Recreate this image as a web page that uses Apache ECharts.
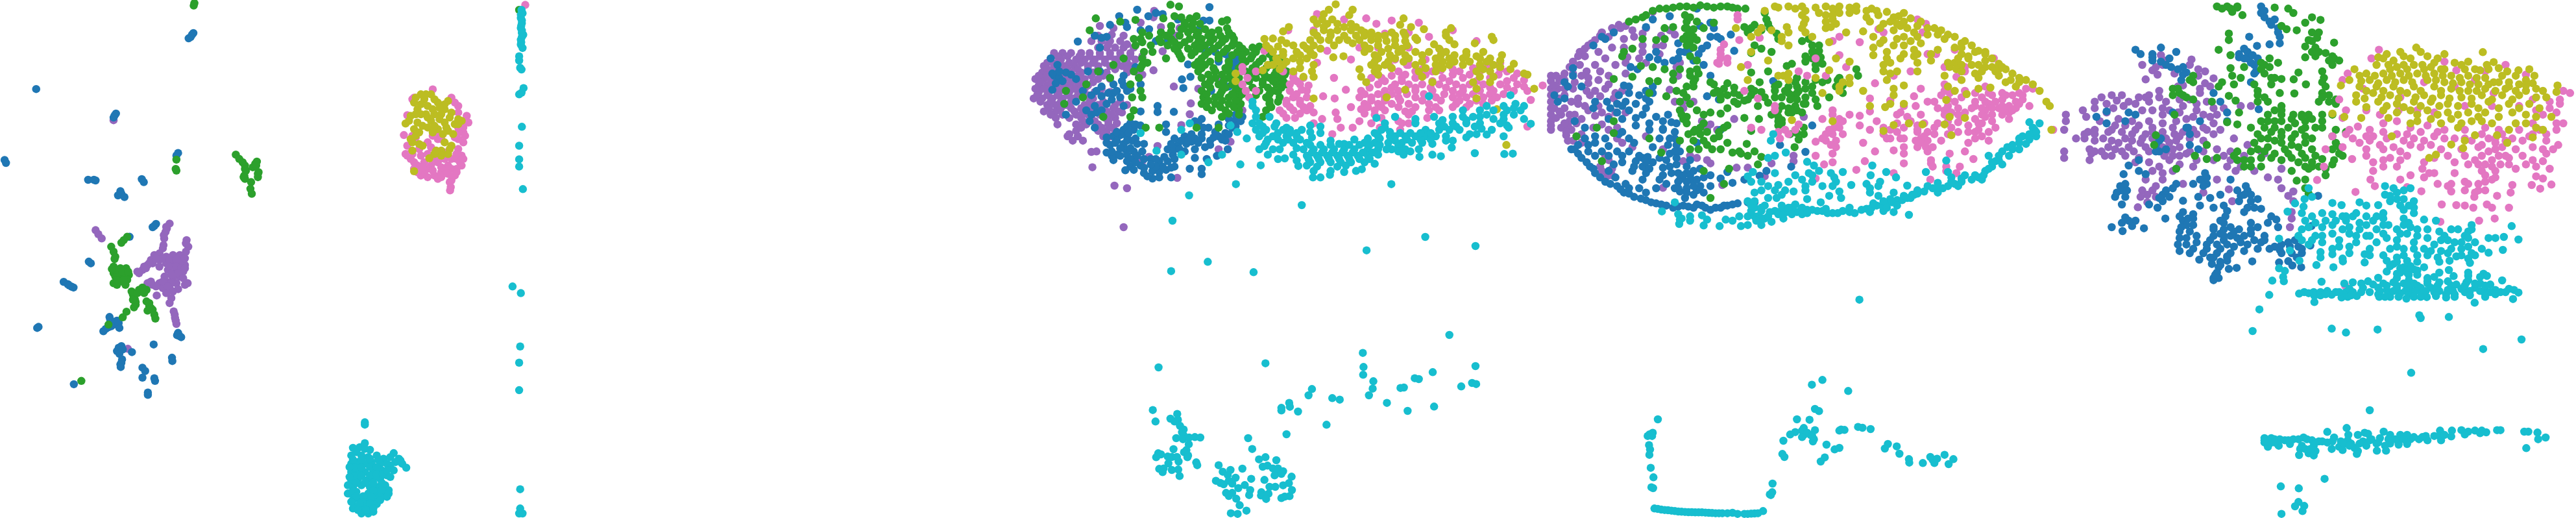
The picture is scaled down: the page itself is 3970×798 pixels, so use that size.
<!DOCTYPE html>
<html><head><meta charset="utf-8">
<style>html,body{margin:0;padding:0;background:#fff}#c{width:3970px;height:798px}</style>
<script src="https://cdn.jsdelivr.net/npm/echarts@6/dist/echarts.min.js"></script>
</head><body><div id="c"></div>
<script>
const p1Blue=[[570,100],[562,112],[566,105],[556,116],[107,269],[342,343],[335,355],[338,349],[525,462],[520,470],[14,483],[18,492],[260,543],[282,545],[277,543],[418,541],[424,550],[355,577],[348,590],[358,585],[367,595],[460,676],[450,686],[455,682],[382,715],[262,790],[268,795],[188,851],[200,858],[212,866],[217,868],[205,862],[323,957],[325,965],[345,968],[335,980],[320,988],[305,1000],[312,993],[350,975],[352,990],[340,972],[328,985],[110,990],[114,987],[525,1005],[530,1015],[522,1012],[534,1018],[350,1050],[345,1060],[358,1045],[362,1055],[352,1068],[360,1085],[355,1100],[358,1095],[356,1108],[389,1063],[453,1040],[507,1080],[508,1090],[420,1110],[428,1120],[420,1140],[455,1142],[457,1150],[218,1160],[436,1185],[436,1192]];
const p1Green=[[571,17],[573,10],[520,482],[518,510],[520,515],[695,467],[705,480],[715,490],[722,500],[725,515],[720,530],[722,540],[740,550],[738,570],[742,585],[752,495],[757,488],[745,505],[762,520],[760,535],[375,715],[365,725],[358,733],[328,745],[335,760],[340,775],[338,782],[335,805],[345,815],[355,825],[335,825],[372,810],[380,830],[365,835],[350,840],[335,855],[345,860],[370,860],[360,850],[355,810],[340,835],[375,845],[420,868],[432,875],[415,880],[410,875],[425,885],[388,880],[392,890],[398,905],[400,920],[395,928],[432,910],[440,925],[435,938],[450,935],[455,950],[458,962],[373,941],[362,958],[320,980],[240,1150],[345,830],[360,820],[350,850],[340,815],[365,845],[378,820],[330,812],[345,845],[400,912],[392,905],[440,915],[445,930],[425,875],[405,885],[722,510],[718,535],[755,500],[760,525]];
const p1Purple=[[282,695],[290,707],[300,720],[335,363],[377,1053],[490,685],[500,675],[488,700],[484,720],[482,740],[480,750],[550,725],[555,745],[548,760],[405,820],[420,815],[435,800],[445,785],[455,770],[470,765],[490,775],[510,770],[530,770],[540,785],[545,800],[530,795],[510,795],[490,795],[470,785],[450,795],[470,805],[495,815],[520,815],[540,820],[530,835],[510,840],[490,850],[470,855],[450,860],[435,855],[480,870],[500,870],[520,855],[545,860],[525,873],[490,885],[505,900],[500,915],[462,892],[512,940],[516,960],[520,978],[553,855],[480,780],[500,785],[520,785],[460,780],[440,795],[425,805],[500,805],[520,805],[535,810],[505,825],[525,825],[545,780],[485,835],[505,855],[480,850],[460,865],[445,850],[495,865],[510,880],[505,830],[540,840],[545,810],[548,735],[492,690],[483,710],[515,950],[518,968],[410,825],[430,810]];
const p1Pink=[[1220,295],[1330,295],[1350,320],[1375,350],[1380,370],[1365,400],[1190,408],[1215,410],[1195,465],[1210,480],[1230,500],[1250,520],[1280,530],[1300,520],[1330,510],[1360,500],[1360,470],[1350,450],[1290,410],[1260,430],[1240,470],[1300,470],[1320,500],[1220,510],[1240,530],[1270,500],[1290,490],[1340,530],[1330,545],[1290,540],[1325,550],[1328,565],[1326,575],[1365,430],[1200,440],[1370,410],[1250,490],[1310,480],[1345,480],[1275,270],[1200,348],[1260,465],[1350,420],[1230,520],[1260,510],[1310,510],[1345,510],[1200,470],[1220,490],[1245,505],[1275,515],[1300,505],[1355,490],[1345,465],[1310,460],[1290,420],[1270,445],[1235,450],[1215,465],[1345,520],[1320,525],[1260,535],[1300,535],[1365,385],[1350,400],[1350,340],[1370,365],[1340,310],[1215,300],[1205,465],[1280,480],[1330,480],[1365,480],[1225,415],[1300,420],[1275,410],[1340,415],[1350,385]];
const p1Olive=[[1240,285],[1270,285],[1220,310],[1250,300],[1290,310],[1320,305],[1230,330],[1260,320],[1310,330],[1330,340],[1210,350],[1240,345],[1280,345],[1350,360],[1360,365],[1195,373],[1230,370],[1270,365],[1310,370],[1340,375],[1220,390],[1260,385],[1290,390],[1320,395],[1215,430],[1245,440],[1210,420],[1310,430],[1330,440],[1300,455],[1325,450],[1280,465],[1265,478],[1220,517],[1215,455],[1300,345],[1255,345],[1225,295],[1255,285],[1280,300],[1310,315],[1240,315],[1275,330],[1295,325],[1225,345],[1260,355],[1295,360],[1325,355],[1205,365],[1245,380],[1280,380],[1315,385],[1350,375],[1235,400],[1275,400],[1305,405],[1335,405],[1225,410],[1320,465],[1300,470],[1285,455],[1235,435]];
const p1Cyan=[[1075,1275],[1075,1282],[1510,865],[1075,1338],[1040,1352],[1060,1350],[1090,1358],[1065,1375],[1085,1380],[1035,1375],[1110,1375],[1130,1385],[1160,1368],[1175,1385],[1185,1400],[1197,1412],[1165,1395],[1150,1405],[1160,1420],[1140,1400],[1035,1400],[1055,1395],[1075,1400],[1095,1395],[1120,1400],[1035,1425],[1055,1420],[1075,1425],[1100,1420],[1125,1420],[1140,1435],[1035,1450],[1055,1445],[1080,1450],[1100,1445],[1120,1445],[1040,1470],[1065,1465],[1090,1470],[1115,1470],[1135,1465],[1030,1490],[1050,1485],[1085,1490],[1110,1490],[1145,1480],[1130,1498],[1040,1510],[1060,1505],[1080,1510],[1100,1510],[1050,1530],[1070,1530],[1090,1530],[1110,1522],[1065,1550],[1085,1550],[1100,1545],[1025,1490],[1040,1535],[1050,1365],[1075,1355],[1040,1388],[1065,1388],[1090,1385],[1115,1388],[1045,1412],[1065,1412],[1090,1410],[1110,1410],[1045,1437],[1065,1437],[1090,1435],[1110,1432],[1128,1432],[1050,1458],[1075,1458],[1100,1458],[1125,1458],[1040,1482],[1100,1480],[1125,1480],[1050,1498],[1070,1498],[1095,1500],[1120,1500],[1035,1515],[1070,1518],[1090,1520],[1060,1520],[1080,1540],[1100,1535],[1055,1540],[1180,1390],[1150,1380],[1140,1420],[1150,1440],[1030,1410],[1030,1440],[1025,1465],[1145,1490],[1140,1500],[1120,1510]];
const p2Olive=[[1535,8]];
const p2Green=[[1530,30]];
const p2Pink=[[1548,15]];
const p2Cyan=[[1537,30],[1540,40],[1535,55],[1538,70],[1535,85],[1538,100],[1542,105],[1535,120],[1535,135],[1540,145],[1530,170],[1530,183],[1533,205],[1537,210],[1530,285],[1537,280],[1543,266],[1538,383],[1530,440],[1530,481],[1530,503],[1541,571],[1535,885],[1533,1046],[1530,1095],[1530,1178],[1533,1477],[1533,1535],[1540,1550],[1530,1550],[1535,45],[1538,62],[1536,78],[1538,92],[1538,112],[1536,128]];
const p3Purple=[[260,130],[220,120],[195,190],[225,190],[250,190],[280,190],[215,220],[240,220],[265,220],[290,220],[320,220],[85,245],[110,245],[135,245],[165,245],[190,245],[220,245],[250,245],[280,245],[310,245],[75,275],[105,275],[150,275],[175,275],[205,275],[235,275],[265,275],[295,275],[325,275],[55,305],[85,305],[115,305],[145,305],[185,305],[215,305],[250,305],[285,305],[315,305],[50,335],[75,335],[105,335],[135,335],[165,335],[200,335],[240,335],[300,335],[330,335],[30,365],[55,365],[85,365],[115,365],[145,365],[175,365],[215,365],[250,365],[40,395],[65,395],[95,395],[125,395],[155,395],[185,395],[40,425],[70,425],[100,425],[130,425],[160,425],[205,425],[250,425],[25,455],[50,455],[80,455],[110,455],[140,455],[200,455],[65,485],[90,485],[120,485],[175,485],[215,485],[265,485],[300,485],[55,515],[90,515],[145,515],[170,515],[210,515],[240,515],[275,515],[90,545],[130,545],[165,545],[195,545],[235,545],[265,545],[95,575],[150,575],[180,575],[215,575],[245,575],[150,605],[215,605],[240,605],[265,605],[125,630],[155,630],[230,630],[250,630],[140,650],[170,650],[195,702],[210,700],[198,773],[263,858],[300,870],[290,1050],[438,400],[488,478],[510,410],[485,528],[460,578],[380,50],[378,80],[340,105],[400,125],[455,130],[445,165],[405,237],[378,325],[345,345],[390,675],[570,690],[605,655],[448,822],[345,745],[365,725],[520,360],[570,365],[640,510],[620,490],[95,260],[125,260],[160,260],[190,260],[220,260],[250,260],[280,260],[310,260],[65,290],[95,290],[130,290],[165,290],[200,290],[235,290],[270,290],[300,290],[65,320],[95,320],[125,320],[155,320],[185,320],[215,320],[265,320],[300,320],[40,350],[65,350],[95,350],[125,350],[155,350],[195,350],[230,350],[45,380],[75,380],[105,380],[135,380],[165,380],[200,380],[30,410],[55,410],[85,410],[115,410],[145,410],[175,410],[225,410],[35,440],[65,440],[95,440],[125,440],[155,440],[185,440],[225,440],[45,470],[75,470],[105,470],[135,470],[190,470],[230,470],[280,470],[70,500],[105,500],[135,500],[165,500],[195,500],[230,500],[260,500],[75,530],[110,530],[150,530],[185,530],[220,530],[255,530],[285,520],[170,560],[205,560],[245,560],[270,570],[165,590],[225,590],[255,590],[235,620],[215,165],[255,160],[290,165],[245,205],[300,205],[345,260],[130,620]];
const p3Blue=[[330,45],[385,60],[405,65],[363,75],[543,33],[277,75],[295,105],[250,115],[205,165],[225,175],[240,170],[155,192],[525,95],[543,95],[450,90],[300,125],[340,140],[365,135],[385,190],[420,185],[515,130],[220,220],[75,270],[95,300],[120,335],[85,350],[100,360],[90,385],[80,415],[150,365],[185,330],[220,330],[290,350],[325,310],[260,390],[290,395],[310,410],[225,400],[195,440],[225,445],[260,430],[280,450],[240,480],[290,490],[150,470],[210,520],[180,510],[120,530],[190,560],[205,590],[340,390],[340,515],[390,490],[390,518],[438,517],[462,367],[487,355],[466,407],[310,570],[290,600],[320,600],[340,580],[300,630],[260,630],[325,640],[350,665],[290,665],[240,660],[240,705],[270,715],[260,740],[295,690],[320,700],[345,700],[315,735],[340,765],[310,770],[295,787],[370,735],[395,745],[420,745],[435,715],[420,690],[450,670],[475,665],[500,640],[470,630],[500,690],[530,680],[545,650],[570,630],[590,615],[610,590],[640,540],[520,550],[540,590],[500,560],[620,555],[590,650],[440,770],[415,785],[395,795],[375,790],[350,800],[375,825],[430,820],[520,780],[520,805],[485,780],[535,735],[565,720],[597,690],[500,730],[415,575],[415,610],[550,230],[600,260],[620,280],[610,300],[570,285],[480,298],[520,225],[600,400],[548,420],[300,585],[325,575],[305,615],[280,625],[315,650],[270,650],[300,650],[330,665],[250,670],[280,685],[310,685],[255,720],[280,720],[300,715],[330,720],[300,745],[325,750],[320,785],[350,775],[385,735],[410,725],[440,690],[430,665],[460,650],[490,655],[510,660],[520,640],[545,670],[555,635],[580,645],[600,620],[620,585],[635,560],[600,580],[560,610],[525,590],[510,570],[480,650],[455,690],[470,700],[440,735],[405,770],[430,775],[385,770],[360,815],[395,820],[520,620],[490,620],[440,640],[350,735],[370,760],[255,700],[265,660],[240,635],[270,610],[195,530],[225,510],[205,490],[255,460],[270,420],[245,430],[210,420],[170,420],[100,330],[80,340],[110,375],[135,345],[285,375],[300,420],[600,550],[620,530],[570,575],[610,320],[625,260],[560,240],[630,300],[600,280],[590,250]];
const p3Green=[[428,22],[453,30],[208,85],[190,140],[325,92],[280,100],[440,75],[460,80],[485,85],[505,75],[407,85],[580,100],[595,93],[595,130],[610,165],[615,195],[430,120],[470,120],[490,120],[345,150],[400,150],[480,150],[510,150],[550,150],[320,180],[340,180],[395,180],[430,180],[485,180],[520,180],[555,180],[590,180],[325,210],[370,210],[420,210],[455,210],[500,210],[530,210],[570,210],[610,210],[630,210],[350,240],[375,240],[450,240],[500,240],[540,240],[585,240],[625,240],[650,240],[680,240],[290,270],[345,270],[415,270],[460,270],[520,270],[570,270],[640,270],[665,270],[700,270],[730,270],[750,270],[260,300],[345,300],[500,300],[530,300],[600,300],[640,300],[680,300],[720,300],[760,300],[215,330],[320,330],[510,330],[560,330],[600,330],[650,330],[690,330],[740,330],[770,330],[250,360],[335,360],[520,360],[560,360],[600,360],[630,360],[680,360],[720,360],[750,360],[180,390],[310,390],[530,390],[570,390],[610,390],[640,390],[700,390],[740,390],[770,390],[120,420],[340,420],[520,420],[580,420],[620,420],[650,420],[690,420],[730,420],[170,450],[315,450],[345,450],[525,450],[560,450],[600,450],[630,450],[710,450],[750,450],[115,480],[520,480],[560,480],[600,480],[635,480],[720,480],[320,510],[550,510],[590,510],[630,510],[710,510],[230,540],[310,540],[580,540],[700,540],[355,590],[395,590],[505,590],[570,590],[470,105],[495,105],[515,110],[430,145],[460,135],[495,135],[530,135],[570,140],[600,150],[365,165],[415,165],[455,165],[505,165],[540,165],[575,165],[345,195],[400,195],[440,195],[470,195],[510,195],[545,195],[580,195],[615,180],[440,225],[480,225],[515,225],[555,225],[595,225],[640,225],[670,220],[690,215],[455,255],[490,255],[530,255],[570,255],[610,255],[640,255],[670,255],[720,250],[510,285],[545,285],[600,285],[650,285],[690,285],[740,285],[360,290],[520,315],[555,315],[590,315],[630,315],[670,315],[710,315],[750,315],[540,345],[580,345],[615,345],[660,345],[705,345],[735,345],[765,345],[340,315],[545,375],[585,375],[620,375],[660,375],[700,375],[730,375],[760,375],[545,405],[590,405],[630,405],[670,405],[715,405],[755,405],[535,435],[575,435],[610,435],[640,435],[680,440],[720,435],[745,425],[540,465],[580,465],[620,465],[720,465],[745,470],[535,495],[575,495],[615,495],[725,495],[600,525],[630,530]];
const p3Pink=[[860,65],[1005,85],[1080,95],[1160,105],[1035,110],[940,90],[775,140],[850,140],[1130,150],[1260,140],[1190,170],[1060,155],[1330,190],[985,220],[1130,220],[1040,220],[1225,235],[705,235],[890,235],[960,275],[1180,275],[1090,275],[1130,275],[640,310],[860,290],[1075,305],[1130,300],[1225,300],[1320,315],[1400,290],[640,330],[680,330],[760,330],[1100,330],[1150,330],[1200,330],[1280,330],[1340,330],[1420,330],[655,360],[790,360],[820,360],[910,360],[1020,360],[1050,360],[1110,360],[1150,360],[1230,360],[1290,360],[1370,360],[1440,360],[1470,370],[640,390],[780,390],[810,390],[1040,390],[1090,390],[1130,390],[1170,390],[1220,390],[1270,390],[1310,390],[1350,390],[1400,390],[1450,390],[650,420],[680,420],[780,420],[830,420],[945,415],[990,420],[1060,420],[1100,420],[1150,420],[1200,420],[1260,420],[1290,420],[1340,420],[1380,420],[1480,420],[660,450],[790,450],[830,450],[878,445],[912,455],[985,450],[1020,450],[1060,450],[1100,450],[1150,450],[1210,450],[1260,450],[1300,450],[1350,450],[1390,450],[1490,462],[770,480],[810,480],[1000,480],[1040,480],[1080,480],[1130,480],[1190,480],[1270,480],[1310,480],[1350,480],[750,510],[790,510],[830,510],[850,520],[960,495],[990,505],[1030,510],[1060,510],[1120,515],[1140,515],[1190,510],[1220,510],[770,545],[795,545],[875,550],[915,520],[985,560],[1030,530],[1100,560],[1130,570],[1185,545],[850,570],[920,550],[1020,570],[1110,570],[930,590],[965,590],[1045,590],[1105,600],[1480,585],[905,620],[1525,395],[1120,345],[1180,345],[1260,345],[1310,345],[1395,345],[1450,340],[1060,375],[1110,375],[1200,375],[1250,375],[1330,375],[1420,375],[1470,400],[800,375],[835,395],[1015,405],[1080,405],[1150,405],[1195,405],[1240,405],[1290,405],[1370,405],[1420,405],[800,435],[815,415],[1000,435],[1040,435],[1080,435],[1125,435],[1175,435],[1235,435],[1280,435],[1320,435],[1370,435],[1410,435],[1440,420],[770,465],[810,465],[840,490],[1020,465],[1060,465],[1105,465],[1170,465],[1225,465],[1280,465],[1330,465],[1375,465],[780,495],[820,495],[1010,495],[1050,495],[1100,495],[1150,495],[1210,495],[1260,495],[1300,495],[760,525],[810,525],[1000,525],[1130,530],[1050,545],[790,340],[1400,320],[1360,310],[1260,320],[1170,320],[1125,300],[1225,325],[1080,350]];
const p3Olive=[[915,20],[895,45],[965,45],[880,65],[955,70],[850,90],[875,90],[905,90],[1000,150],[1115,85],[860,110],[890,110],[920,110],[960,110],[1105,115],[777,125],[1137,125],[760,145],[880,140],[920,140],[960,140],[990,140],[1020,150],[1080,150],[1175,135],[1240,150],[1255,130],[860,165],[900,165],[975,165],[1020,165],[1060,165],[1090,165],[1150,175],[1240,165],[1375,170],[705,180],[730,178],[755,185],[840,185],[870,185],[950,185],[985,185],[1040,185],[1090,185],[1120,190],[1155,185],[1250,185],[1380,185],[710,210],[790,210],[820,210],[850,210],[910,210],[1000,210],[1040,210],[1090,210],[1125,210],[1205,205],[1265,205],[1325,200],[730,240],[760,240],[800,240],[840,240],[1000,240],[1050,240],[1100,240],[1150,240],[1190,240],[1240,240],[1300,240],[1350,240],[740,270],[790,270],[830,270],[908,265],[938,260],[1040,270],[1090,270],[1130,270],[1210,270],[1250,270],[1290,270],[1340,270],[1405,255],[730,300],[760,300],[850,300],[1020,300],[1060,300],[1150,300],[1210,300],[1250,300],[1290,300],[1340,300],[1380,300],[1440,295],[700,325],[790,330],[845,330],[985,320],[1030,330],[1160,330],[1210,330],[1330,330],[1370,330],[1470,340],[620,340],[820,355],[850,355],[990,355],[1040,345],[1170,355],[1340,355],[1380,355],[1480,345],[620,375],[1005,380],[1200,380],[1370,380],[1320,380],[1120,415],[1330,410],[1500,410],[850,455],[1065,450],[1330,455],[1390,505],[1418,670],[880,125],[940,125],[975,125],[900,150],[850,150],[940,165],[1000,165],[1040,165],[1115,150],[1120,165],[895,185],[925,185],[965,200],[1020,185],[1065,190],[770,200],[720,225],[745,215],[830,225],[870,225],[1015,225],[1070,225],[1110,225],[1220,225],[1300,255],[1330,260],[760,255],[810,255],[850,255],[1030,255],[1075,255],[1120,255],[1170,255],[1225,255],[1265,255],[1310,285],[1370,270],[1030,285],[1070,285],[1115,285],[1170,285],[1230,285],[1265,285],[745,285],[770,285],[810,285],[1360,285],[1400,280],[1430,320],[1040,315],[1080,315],[1180,315],[1230,315],[1350,320],[1400,310],[810,315],[750,320],[715,300]];
const p3Cyan=[[670,470],[1190,445],[670,490],[1360,490],[1430,440],[680,510],[1290,510],[1340,510],[1380,510],[1420,510],[1445,480],[1470,490],[680,540],[720,540],[1035,545],[1090,540],[1150,550],[1205,540],[1260,540],[1290,540],[1320,540],[1360,530],[1410,530],[1470,550],[670,570],[690,570],[740,570],[840,580],[870,585],[1060,570],[1150,570],[1220,570],[1260,570],[1300,570],[1340,570],[1400,570],[1420,580],[1490,572],[680,600],[710,600],[760,600],[780,600],[815,600],[870,615],[1030,615],[1060,590],[1180,600],[1220,600],[1250,600],[1280,600],[1310,620],[1345,595],[1375,600],[1425,590],[690,630],[730,630],[770,630],[800,630],[845,635],[1010,640],[1040,630],[1090,630],[1120,630],[1150,630],[1180,630],[1210,630],[1240,630],[1300,635],[1330,620],[1360,622],[1410,630],[710,660],[760,660],[790,660],[830,660],[900,650],[940,665],[970,645],[1000,660],[1030,660],[1070,660],[1110,660],[1140,660],[1170,660],[1200,665],[1260,650],[690,690],[730,690],[820,690],[850,690],[880,690],[910,690],[940,690],[970,690],[1010,690],[1040,690],[1080,690],[1120,690],[1160,690],[1257,682],[715,715],[790,715],[830,720],[860,720],[890,720],[920,720],[950,720],[980,720],[1010,720],[1040,715],[1115,715],[1162,725],[1200,715],[1225,722],[1325,708],[1412,712],[1437,710],[745,735],[765,732],[800,742],[840,750],[870,750],[900,750],[930,750],[960,750],[1000,750],[1030,757],[634,760],[694,764],[805,767],[830,765],[860,770],[920,770],[945,765],[850,790],[900,790],[940,795],[975,790],[992,782],[848,820],[870,820],[898,808],[653,640],[621,851],[483,903],[1079,851],[815,948],[434,1020],[1179,1095],[1006,1157],[1327,1137],[540,750],[460,715],[387,697],[340,615],[460,600],[485,570],[605,580],[625,610],[580,715],[538,1210],[430,1253],[673,1258],[1250,1548],[995,1631],[997,1696],[996,1732],[393,1698],[708,1679],[1327,1692],[1201,1720],[1026,1762],[1148,1748],[1160,1752],[1024,1796],[1106,1793],[1116,1791],[845,1798],[835,1827],[1013,1827],[1285,1786],[1317,1770],[1329,1775],[905,1840],[927,1847],[1066,1862],[778,1862],[780,1880],[755,1885],[755,1897],[804,1902],[1127,1899],[1205,1879],[376,1895],[384,1948],[448,1913],[428,1935],[450,1940],[440,1948],[456,1968],[467,1985],[462,1998],[466,2010],[445,2025],[465,2030],[483,2022],[500,2020],[516,2022],[888,1963],[770,2007],[657,2025],[482,2053],[437,2076],[475,2080],[468,2090],[480,2105],[478,2113],[392,2095],[400,2100],[386,2113],[420,2110],[432,2112],[447,2112],[422,2142],[452,2133],[504,2137],[507,2150],[395,2167],[408,2165],[405,2182],[432,2172],[451,2170],[455,2200],[669,2075],[689,2123],[708,2113],[740,2127],[570,2150],[700,2157],[714,2152],[640,2166],[582,2180],[605,2172],[597,2195],[730,2165],[745,2165],[740,2180],[760,2178],[735,2197],[755,2190],[620,2208],[785,2203],[666,2213],[705,2218],[562,2222],[575,2232],[585,2238],[600,2222],[610,2235],[777,2233],[760,2243],[647,2242],[628,2256],[720,2250],[737,2250],[663,2265],[786,2265],[592,2278],[610,2278],[600,2292],[660,2288],[696,2275],[695,2290],[717,2282],[779,2293],[765,2295],[755,2302],[622,2305],[710,2306],[632,2335],[652,2360],[606,2372],[626,2375],[700,585],[735,585],[770,590],[800,615],[840,610],[700,615],[745,615],[780,615],[715,645],[745,645],[775,645],[810,645],[840,670],[870,670],[900,670],[925,665],[955,670],[985,670],[1015,670],[1045,670],[1090,650],[1125,645],[1165,645],[1195,645],[1240,650],[845,705],[875,705],[905,705],[935,705],[965,705],[995,705],[1025,705],[1065,690],[835,735],[865,735],[895,735],[925,735],[955,735],[985,735],[1015,735],[1045,640],[1075,630],[1105,615],[1135,615],[1165,615],[1195,615],[1235,585],[1270,585],[1325,585],[1380,550],[1410,550],[1440,530],[1460,510],[1440,500],[1410,490],[1300,555],[1340,540],[1230,555],[1075,610],[1050,600],[705,675],[750,690],[800,685],[1100,675],[1135,700],[1100,700]];
const p4Purple=[[320,55],[220,115],[200,130],[240,120],[170,150],[190,170],[150,185],[130,210],[105,240],[120,260],[85,285],[105,300],[150,300],[60,340],[85,340],[125,330],[190,350],[20,350],[20,375],[45,375],[130,385],[160,370],[20,410],[40,410],[85,410],[150,420],[180,410],[230,420],[20,440],[60,440],[135,440],[205,455],[20,470],[80,470],[120,490],[160,490],[30,500],[60,500],[240,520],[20,530],[50,530],[150,535],[190,540],[20,560],[75,560],[110,550],[20,600],[50,590],[80,600],[65,625],[110,620],[145,590],[85,650],[215,640],[260,680],[180,720],[190,740],[170,790],[200,810],[235,180],[290,210],[340,250],[280,270],[240,290],[350,210],[385,160],[395,350],[370,415],[410,470],[440,470],[410,500],[300,630],[490,575],[510,600],[450,730],[410,745],[480,740],[350,868],[525,855],[567,775],[600,775],[650,815],[670,755],[735,720],[735,745],[765,540],[400,290],[560,550],[350,690],[230,660],[100,260],[140,200],[165,165],[205,145],[225,130],[120,225],[75,310],[55,360],[35,350],[30,395],[60,410],[30,425],[45,455],[20,500],[45,515],[20,580],[70,580],[95,570],[65,610],[35,545],[75,530],[100,455],[165,445],[125,420],[190,390],[210,430],[170,575],[200,780],[165,770],[185,815],[70,650],[110,660],[300,290],[290,240],[245,265],[290,155],[370,140],[385,470],[465,560],[480,600],[430,720],[490,755],[60,370],[90,380],[110,350],[130,360],[165,330],[100,480],[60,570],[90,530],[130,510],[170,520],[210,520],[215,590],[190,600],[240,340],[210,300],[180,270],[160,240],[200,220],[235,220],[265,170],[260,140],[300,130],[345,165],[330,215],[390,310]];
const p4Blue=[[450,40],[320,90],[370,75],[490,105],[205,150],[180,180],[145,210],[460,120],[490,170],[520,180],[300,125],[560,235],[465,225],[395,200],[415,240],[330,240],[310,265],[255,310],[275,320],[440,280],[470,300],[395,270],[490,350],[85,315],[60,380],[110,400],[30,440],[60,455],[250,400],[235,395],[320,400],[280,440],[300,455],[150,470],[230,490],[270,480],[300,500],[480,445],[515,460],[190,550],[270,580],[230,610],[310,570],[375,565],[350,595],[385,610],[120,640],[190,675],[80,690],[100,710],[130,670],[390,670],[370,710],[400,700],[230,750],[290,730],[320,750],[360,740],[290,770],[260,790],[350,775],[420,770],[395,800],[430,810],[350,810],[290,830],[135,770],[150,800],[180,840],[215,860],[235,890],[265,910],[300,925],[330,940],[360,950],[395,955],[425,955],[450,945],[475,960],[490,970],[520,960],[540,950],[570,940],[620,935],[395,840],[420,870],[400,885],[460,860],[490,810],[470,890],[520,825],[555,845],[540,795],[655,790],[590,830],[635,812],[675,375],[695,670],[770,702],[728,770],[790,580],[415,915],[440,900],[330,870],[520,600],[450,660],[250,870],[90,690],[110,730],[125,750],[145,780],[165,820],[195,850],[225,875],[250,895],[285,918],[315,935],[345,945],[380,960],[410,950],[440,960],[465,950],[505,960],[530,950],[555,945],[600,935],[100,670],[130,700],[150,660],[280,720],[305,725],[300,750],[270,745],[310,780],[265,770],[300,800],[375,800],[400,830],[440,835],[420,840],[450,880],[420,890],[395,870],[390,760],[420,800],[350,600],[385,640],[365,670],[385,700],[230,550],[270,545],[180,640],[220,620],[240,470],[215,480],[310,470],[320,430],[455,250],[480,210],[510,170],[500,130],[550,160],[380,280],[355,290],[335,275],[430,225],[400,240],[85,350],[70,400],[40,470],[170,170],[195,500],[215,520],[250,510],[290,530],[330,540],[350,560],[365,530],[390,570],[310,600],[250,640],[215,700],[190,720],[230,720],[250,700],[265,660],[340,640],[370,640],[320,680],[340,730],[390,730],[430,740],[460,780],[440,790],[470,820],[410,810],[370,770],[340,830],[360,850],[385,870],[440,860],[490,860],[450,830],[280,870],[300,890],[240,850],[210,820],[190,790],[170,700],[150,720],[205,760],[120,590],[90,560],[150,630],[145,500],[185,470],[220,440],[250,430],[300,420]];
const p4Green=[[340,40],[380,35],[420,30],[460,25],[500,35],[540,30],[570,40],[593,40],[270,90],[300,70],[415,70],[420,100],[650,60],[655,90],[380,125],[415,130],[440,135],[500,105],[355,130],[590,125],[610,130],[640,130],[665,130],[600,150],[685,155],[420,165],[430,190],[290,180],[355,180],[330,185],[260,225],[235,240],[690,180],[760,190],[620,210],[640,225],[670,240],[610,245],[790,210],[810,235],[790,270],[820,295],[230,260],[285,305],[320,310],[355,320],[660,330],[610,335],[715,305],[730,295],[800,320],[920,320],[430,330],[455,340],[445,365],[260,355],[205,365],[380,370],[335,375],[310,375],[490,380],[540,385],[635,380],[690,390],[745,360],[820,380],[865,370],[925,350],[440,400],[510,420],[560,405],[610,410],[640,425],[680,420],[745,400],[790,430],[880,430],[840,450],[360,445],[310,430],[420,450],[590,465],[660,475],[730,440],[770,450],[805,490],[540,500],[570,480],[630,490],[700,490],[740,490],[400,510],[520,525],[590,545],[633,550],[690,540],[720,520],[760,520],[410,550],[460,590],[540,580],[610,605],[700,570],[765,590],[425,620],[460,620],[515,630],[400,650],[310,640],[480,670],[540,660],[597,665],[725,620],[765,620],[750,645],[738,680],[430,690],[520,690],[555,705],[580,710],[620,700],[640,725],[630,760],[470,790],[545,780],[205,615],[95,630],[170,745],[345,705],[205,560],[155,590],[490,915],[530,850],[745,615],[320,50],[360,40],[400,30],[440,35],[480,30],[520,30],[555,35],[290,80],[250,100],[420,130],[430,150],[440,170],[410,180],[420,210],[450,185],[810,210],[795,240],[805,270],[770,285],[430,350],[450,320],[440,380],[420,400],[740,380],[750,420],[725,460],[745,460],[700,450],[770,410],[790,400],[800,460],[680,400],[720,500],[745,510],[690,510],[700,555],[470,570],[445,600],[470,650],[495,690],[440,610],[420,540],[405,530],[515,610],[530,590],[500,430],[520,460],[540,440],[560,470],[600,460],[575,440],[620,420],[835,370],[860,400],[870,360],[880,395],[575,700],[600,720],[765,480],[690,560],[390,420],[410,430],[400,470],[430,480],[450,510],[470,530],[490,520],[420,570],[480,610],[500,640],[440,650],[455,690],[500,390],[530,410],[520,440],[560,430],[610,440],[650,450],[680,450],[710,420],[720,400],[770,380],[800,370],[720,430],[745,430],[770,480],[730,520],[670,530],[690,580],[640,140],[620,115],[660,110],[450,100],[430,80],[470,130],[440,220],[430,260],[450,280],[380,340],[400,320],[790,240],[770,260],[815,265],[780,180],[800,300]];
const p4Pink=[[570,70],[570,90],[530,205],[520,230],[520,270],[515,295],[540,290],[575,185],[600,300],[635,175],[850,190],[870,170],[930,195],[985,135],[1000,150],[1100,90],[1125,110],[1115,150],[870,255],[890,310],[830,350],[775,350],[750,330],[1130,250],[1155,250],[1240,310],[1080,330],[1180,310],[1215,355],[1240,330],[975,385],[1030,350],[1110,410],[1180,420],[1240,420],[1300,400],[1290,450],[1350,430],[1400,430],[1430,490],[1390,470],[1440,410],[960,455],[1020,465],[1090,445],[1150,470],[1210,470],[1270,470],[1330,470],[1370,490],[850,510],[900,530],[960,515],[1050,520],[1110,530],[1180,510],[1240,520],[1300,510],[1350,530],[820,550],[870,550],[930,535],[980,560],[1040,570],[1100,580],[1160,570],[1220,565],[1270,550],[1320,560],[1370,550],[1500,600],[640,600],[610,590],[690,610],[720,620],[750,575],[855,590],[930,580],[1000,620],[1100,610],[1150,620],[1190,620],[1270,610],[1310,650],[820,640],[860,650],[940,660],[1010,640],[1060,640],[1130,650],[1250,660],[1100,680],[1030,695],[1060,710],[975,700],[1130,700],[1195,710],[1240,700],[800,720],[850,710],[1060,755],[945,745],[850,750],[825,760],[1140,755],[1185,770],[1225,770],[920,785],[1030,800],[1215,800],[1265,735],[1138,830],[800,825],[680,510],[630,455],[590,420],[680,490],[1100,880],[1325,270],[1210,230],[800,270],[1160,500],[1190,490],[1220,500],[1270,490],[1310,480],[1350,460],[1380,440],[1410,460],[1420,410],[1360,510],[1320,530],[1290,570],[1280,600],[1250,580],[1200,590],[1130,610],[1110,640],[1125,680],[1180,530],[1230,540],[1100,600],[1060,590],[1020,600],[1070,540],[1040,530],[860,570],[850,620],[880,620],[830,650],[860,680],[800,655],[850,530],[870,590],[1310,610],[1290,630],[1270,640],[1340,500],[1370,520],[1390,500],[1300,470],[1195,430],[1190,460],[1140,740],[1145,770],[1185,790],[1060,680],[1050,640],[1310,430],[1180,390],[540,270],[510,290],[520,250],[695,640],[710,600],[740,600],[1120,630],[1095,650],[1200,520],[1220,530],[1260,500],[1290,530],[1320,500],[1350,490],[1300,540],[1330,590],[1280,570],[1250,610],[1220,610],[1190,560],[1150,590],[1120,570],[1080,560],[1040,610],[1020,640],[1170,650],[1145,680],[1110,660],[1290,500],[1380,510],[1400,480],[1410,440],[1360,440],[1320,440],[1270,430],[1230,450],[1170,440],[1130,470],[1095,490],[1060,490],[840,600],[880,560],[845,670],[830,620],[1000,590],[960,600]];
const p4Olive=[[650,50],[690,35],[720,30],[760,30],[830,30],[870,30],[920,30],[965,40],[1010,55],[1045,75],[1080,85],[950,80],[985,70],[860,50],[760,70],[830,70],[860,110],[765,110],[1050,120],[1110,100],[1150,130],[1190,160],[1030,140],[1090,150],[715,125],[565,130],[610,170],[640,130],[770,150],[830,130],[890,150],[940,145],[970,170],[1000,185],[1080,190],[1240,190],[1210,170],[700,190],[720,210],[840,195],[1110,200],[1260,210],[1300,240],[1340,295],[1380,340],[1420,370],[1460,420],[1490,490],[1480,470],[610,240],[660,280],[580,310],[600,370],[860,270],[900,285],[970,255],[1010,240],[1060,250],[1100,290],[1140,280],[1210,290],[1250,270],[1300,310],[1330,330],[1390,400],[705,350],[720,370],[800,360],[840,325],[1000,300],[1020,340],[1100,330],[1180,350],[1230,370],[1280,360],[1360,380],[900,385],[870,400],[940,420],[1030,410],[1060,395],[1190,400],[1210,420],[1280,410],[1315,405],[1245,435],[820,430],[960,490],[1005,495],[1060,480],[1185,462],[730,555],[850,560],[1030,578],[1075,570],[1115,575],[1180,575],[1195,540],[1240,545],[1495,600],[1200,625],[1000,605],[630,150],[1300,280],[1270,340],[1160,230],[1195,310],[680,30],[740,40],[800,35],[850,40],[900,35],[950,50],[980,50],[1030,80],[1060,100],[1070,130],[1100,170],[1130,130],[1170,140],[1160,160],[1040,110],[960,100],[770,90],[850,90],[845,125],[1210,220],[1230,200],[1280,235],[1320,270],[1360,320],[1400,360],[1440,390],[1250,260],[1300,250],[1230,250],[1260,300],[1230,300],[1215,320],[1010,270],[1000,330],[1010,370],[1040,180],[1090,230],[1060,210],[990,200],[970,220],[720,150],[700,170],[670,140],[720,340],[690,350],[1290,330],[1340,350],[1375,370],[1090,260],[1050,270],[870,420],[880,380],[900,360],[1060,60],[1100,120],[1130,160],[1180,180],[1230,220],[1270,240],[1320,310],[1340,320],[1400,380],[1020,100],[1000,110],[990,130],[1060,170],[1030,210],[1100,250],[1020,290],[1040,330],[1140,250],[1190,290],[1230,330],[870,60],[900,60],[920,50],[770,50],[810,60],[850,70],[830,100],[760,130],[790,170],[1030,440],[1020,480],[1220,270],[1280,300],[1350,310]];
const p4Cyan=[[1430,565],[1460,570],[1445,600],[1450,630],[1410,630],[1420,665],[1380,690],[1350,700],[1310,720],[1350,760],[1320,770],[1300,790],[1270,810],[1240,810],[1290,830],[1200,820],[1190,795],[1185,742],[1125,795],[1160,845],[1130,860],[1190,860],[1220,860],[1100,895],[1160,890],[1070,915],[1040,930],[1010,940],[980,950],[950,965],[915,985],[880,975],[850,985],[820,975],[790,970],[755,975],[740,945],[715,980],[680,975],[650,950],[620,960],[600,930],[630,1000],[600,1000],[670,1025],[705,1010],[640,1040],[600,1040],[580,1045],[575,1000],[555,1020],[535,1015],[517,1045],[470,1042],[480,1015],[465,995],[430,1020],[398,1035],[395,990],[405,1010],[385,935],[347,977],[1075,993],[1030,980],[1000,975],[960,980],[675,620],[668,650],[712,705],[660,730],[680,720],[775,748],[795,765],[740,810],[780,800],[810,790],[845,800],[880,795],[967,765],[962,810],[1008,795],[1037,820],[600,815],[610,840],[640,840],[680,800],[615,795],[620,890],[660,860],[690,855],[710,880],[735,885],[770,860],[790,840],[860,840],[905,855],[950,850],[990,840],[1070,858],[660,915],[685,915],[775,920],[815,935],[840,905],[875,915],[870,885],[960,890],[985,905],[1030,890],[1040,925],[850,860],[770,880],[929,1385],[820,1756],[789,1778],[896,1807],[335,1938],[798,1890],[810,1900],[745,1938],[782,1940],[320,2000],[305,2015],[318,2015],[765,1978],[740,1997],[725,2008],[798,1988],[765,2010],[785,2010],[875,1985],[885,1987],[870,1990],[925,1973],[938,1977],[962,1983],[705,2037],[795,2030],[792,2040],[309,2057],[312,2077],[310,2102],[832,2055],[856,2077],[870,2070],[1013,2052],[1004,2073],[1039,2063],[1047,2097],[702,2098],[708,2112],[827,2114],[815,2133],[1075,2122],[1076,2138],[1116,2140],[1138,2112],[1145,2125],[1150,2140],[1158,2120],[1180,2102],[1206,2122],[1192,2145],[314,2162],[322,2206],[316,2252],[321,2256],[673,2235],[665,2285],[672,2275],[668,2288],[325,2350],[345,2355],[365,2358],[385,2362],[405,2365],[425,2367],[445,2368],[465,2368],[485,2370],[505,2372],[525,2372],[555,2370],[570,2375],[600,2375],[620,2373],[645,2362],[1440,590],[1430,620],[1430,645],[1400,660],[1400,690],[1365,680],[1370,720],[1330,745],[1340,720],[1310,780],[1280,820],[1260,830],[1230,840],[1210,850],[1175,870],[1145,870],[1120,885],[1080,915],[1085,900],[1055,925],[1025,935],[995,950],[965,960],[935,970],[900,980],[865,985],[835,985],[805,975],[775,970],[745,980],[760,960],[730,960],[700,970],[665,980],[640,975],[620,1000],[610,975],[650,1010],[700,990],[730,990],[760,990],[640,1010],[625,1020],[400,1015],[430,1000],[335,2352],[355,2357],[375,2360],[395,2364],[415,2366],[435,2367],[455,2368],[475,2369],[495,2371],[515,2372],[540,2372],[590,2375],[610,2374],[630,2372],[760,1990],[775,2000],[310,2008],[760,2020],[790,2015],[1450,610],[1400,640],[1380,670],[1340,740],[1320,750],[1295,810],[1230,825],[1200,840],[1160,865],[1100,880],[1060,905],[1020,920],[1000,930],[690,990],[660,1000],[610,950],[640,960],[620,930],[700,950],[720,960],[775,985],[830,965],[900,960],[970,940],[1040,950],[1010,960],[820,860],[855,820],[760,830],[790,810],[680,880],[700,900],[640,880],[720,840],[960,870],[985,860],[1090,900]];
const p5Purple=[[65,530],[65,560],[60,600],[60,700],[60,730],[115,510],[125,540],[95,640],[130,610],[150,600],[120,640],[150,650],[135,690],[135,740],[150,700],[170,450],[150,470],[185,480],[215,465],[230,440],[250,470],[205,500],[185,520],[235,490],[165,560],[175,640],[180,720],[200,650],[210,690],[240,640],[260,650],[240,580],[270,600],[300,620],[265,700],[300,680],[320,640],[360,640],[390,650],[350,680],[385,620],[430,640],[470,650],[500,620],[520,600],[560,640],[600,670],[640,700],[440,600],[350,570],[310,560],[350,530],[390,560],[490,540],[530,500],[450,510],[410,490],[420,550],[310,440],[340,450],[300,450],[340,420],[370,510],[395,520],[290,510],[260,560],[220,550],[430,460],[460,410],[410,395],[395,400],[435,275],[345,255],[350,300],[320,325],[290,300],[335,345],[300,367],[385,340],[455,320],[475,330],[500,362],[490,400],[460,430],[480,470],[580,490],[610,490],[200,720],[240,720],[280,730],[310,750],[370,740],[400,760],[340,770],[380,790],[440,770],[540,770],[580,770],[620,790],[660,820],[700,780],[690,830],[700,870],[720,905],[735,930],[735,885],[730,980],[730,1010],[725,1050],[300,830],[350,830],[410,850],[290,880],[285,910],[320,880],[305,935],[330,910],[277,958],[545,875],[555,930],[470,890],[510,830],[565,790],[650,710],[700,740],[200,600],[230,610],[260,620],[290,640],[320,610],[350,610],[380,590],[410,610],[450,620],[480,600],[400,630],[340,650],[370,660],[400,680],[360,700],[380,720],[310,700],[285,660],[250,680],[220,660],[190,680],[170,700],[230,700],[270,750],[355,720],[400,720],[430,700],[470,700],[510,690],[550,700],[590,720],[530,720],[500,740],[550,740],[450,740],[430,600],[470,590],[500,570],[320,590],[280,580],[210,580],[190,610],[150,620],[140,710],[120,620],[440,540],[470,530],[510,530],[400,520],[350,500],[320,510],[270,480],[310,470],[360,470],[400,460],[450,480],[500,500],[150,500],[380,690],[420,710],[200,440],[280,450],[330,310],[355,280],[430,300],[455,350],[475,385],[320,790],[350,800],[330,860],[305,900]];
const p5Blue=[[270,230],[285,250],[345,220],[390,240],[320,250],[320,280],[370,270],[375,310],[410,310],[420,335],[405,370],[640,30],[640,60],[650,50],[680,90],[670,115],[690,130],[695,170],[665,205],[695,200],[605,170],[628,212],[590,225],[575,250],[600,270],[620,300],[625,330],[575,265],[610,380],[500,430],[520,470],[540,520],[633,505],[155,540],[185,515],[250,520],[270,530],[240,560],[185,570],[380,520],[425,590],[460,560],[540,560],[330,670],[340,700],[430,670],[455,690],[280,740],[250,765],[280,790],[235,805],[300,805],[475,800],[465,830],[440,850],[480,850],[390,850],[380,870],[240,850],[230,880],[210,910],[240,910],[230,945],[350,900],[370,910],[350,930],[335,960],[310,945],[410,928],[455,910],[460,950],[490,915],[530,950],[500,960],[570,880],[595,860],[610,900],[630,920],[575,930],[600,960],[550,830],[640,965],[670,1000],[590,980],[540,975],[410,980],[440,990],[410,1020],[535,1000],[530,1030],[550,1050],[500,1060],[520,1080],[550,1090],[440,1040],[400,1070],[420,1100],[450,1090],[490,1110],[530,1110],[570,1100],[610,1080],[650,1090],[610,1030],[660,1030],[685,1015],[690,1050],[400,1160],[440,1150],[480,1150],[520,1150],[560,1140],[600,1130],[640,1120],[680,1140],[720,1120],[750,1140],[760,1170],[730,1170],[695,1155],[240,1005],[230,1030],[270,1020],[260,1045],[295,1055],[200,1050],[232,1068],[358,1010],[490,1190],[540,1185],[745,1190],[575,1060],[808,905],[788,1045],[785,1135],[520,900],[458,1200],[495,1220],[520,1210],[540,1205],[515,1235],[545,1243],[568,1238],[510,1260],[500,1285],[515,1285],[500,1295],[614,1208],[693,1213],[720,1207],[732,1227],[758,1235],[320,265],[345,285],[360,300],[395,320],[410,345],[650,80],[665,100],[690,150],[600,240],[615,255],[610,290],[630,270],[590,270],[620,340],[420,590],[430,620],[345,640],[330,700],[340,650],[360,690],[460,830],[480,820],[470,860],[225,860],[215,890],[245,880],[360,880],[340,915],[600,880],[590,900],[610,930],[580,905],[620,960],[400,1000],[425,1010],[440,1010],[420,1040],[405,1050],[430,1070],[400,1100],[395,1130],[420,1130],[450,1120],[480,1130],[510,1130],[540,1130],[580,1120],[620,1110],[650,1110],[430,1170],[470,1170],[510,1170],[550,1170],[590,1160],[630,1150],[665,1150],[530,1060],[560,1070],[500,1090],[530,1090],[500,1050],[520,1020],[610,1060],[630,1050],[590,1090],[540,1190],[700,1130],[740,1110],[725,1140],[700,1170],[760,1150],[250,1020],[500,1190],[520,1225],[505,1270]];
const p5Green=[[510,30],[540,30],[570,30],[585,70],[555,55],[680,35],[720,40],[735,60],[790,80],[815,92],[770,105],[745,140],[700,120],[715,135],[545,155],[545,185],[790,150],[810,150],[780,185],[855,197],[800,220],[770,215],[515,230],[770,265],[800,260],[830,245],[855,270],[870,280],[850,300],[665,270],[690,290],[650,300],[550,255],[550,315],[590,310],[650,340],[670,360],[700,365],[820,330],[825,360],[750,335],[736,367],[772,390],[555,350],[580,360],[560,390],[620,390],[670,390],[820,380],[830,400],[525,380],[515,400],[440,350],[440,380],[380,410],[400,430],[380,440],[420,450],[440,460],[545,443],[495,470],[565,465],[695,430],[738,432],[630,420],[650,450],[630,470],[660,470],[700,490],[820,430],[840,470],[810,470],[860,480],[575,520],[660,530],[700,530],[760,530],[780,530],[820,530],[850,530],[385,530],[540,565],[570,575],[680,560],[730,550],[770,560],[820,560],[610,590],[800,590],[820,590],[860,600],[630,620],[670,610],[720,590],[760,600],[850,630],[890,610],[620,660],[680,650],[730,640],[770,630],[860,660],[650,700],[710,690],[750,680],[790,690],[870,710],[610,740],[670,730],[730,730],[770,730],[820,735],[880,720],[640,770],[590,770],[730,790],[780,780],[790,770],[850,760],[830,810],[855,740],[745,835],[770,830],[770,870],[480,670],[570,700],[510,730],[445,720],[480,735],[330,625],[325,670],[390,780],[780,895],[640,560],[660,560],[700,560],[760,540],[790,550],[650,590],[680,590],[700,610],[740,570],[770,590],[640,640],[660,640],[700,630],[740,620],[790,640],[660,680],[700,660],[730,670],[770,660],[630,690],[680,710],[720,710],[760,710],[800,720],[640,730],[700,740],[750,750],[790,750],[610,700],[770,770],[810,770],[870,680],[850,690],[830,780],[820,450],[840,440],[860,460],[810,240],[790,240],[850,260],[840,280],[790,190],[805,175],[570,35],[525,40],[550,40],[640,290],[665,310],[640,320],[680,360],[630,440],[680,510],[700,510],[735,530],[410,440],[395,410],[430,370],[560,720],[590,740],[610,770],[570,740]];
const p5Pink=[[987,230],[965,270],[1180,285],[1215,325],[1300,330],[1360,300],[1420,345],[880,370],[895,340],[940,410],[1050,450],[1120,380],[1270,370],[1325,430],[1210,400],[870,460],[890,510],[880,545],[950,510],[990,530],[1045,510],[1100,510],[1150,520],[1240,490],[1320,490],[1400,490],[1440,460],[1490,470],[1530,420],[1550,430],[1520,480],[1510,520],[1450,510],[1530,570],[1510,570],[925,585],[890,620],[850,630],[960,600],[1000,570],[1040,560],[1080,590],[1130,580],[1180,600],[1240,600],[1300,590],[1340,600],[1400,600],[1460,600],[910,640],[930,660],[970,630],[1010,640],[1090,640],[1150,630],[1210,640],[1260,650],[1310,640],[1360,650],[1410,650],[1480,650],[1515,670],[880,680],[830,690],[908,735],[950,690],[1000,690],[1050,700],[1110,680],[1170,690],[1230,690],[1280,680],[1330,690],[1390,690],[1440,680],[1500,690],[950,720],[1000,740],[1050,740],[1150,730],[1210,750],[1270,740],[1320,740],[1370,730],[1440,740],[1480,710],[970,790],[1040,770],[1115,780],[1150,800],[1210,800],[1290,790],[1330,790],[1390,780],[1450,770],[1490,780],[962,830],[1050,830],[1080,810],[1120,820],[1160,850],[1200,850],[1240,840],[1280,850],[1320,830],[1380,855],[1437,855],[1462,872],[1495,853],[1450,815],[1470,825],[975,860],[1070,865],[1112,884],[918,887],[1200,885],[1240,880],[1270,890],[1300,880],[1335,905],[1268,910],[1375,890],[1172,945],[1215,948],[1240,950],[1265,960],[1305,945],[1320,960],[1370,960],[1328,1010],[1282,1020],[1168,1025],[805,832],[825,770],[888,1322],[1000,610],[1040,620],[1060,650],[1120,650],[1180,640],[1240,640],[1290,620],[1330,640],[1380,640],[1430,630],[960,650],[990,670],[1030,680],[1080,670],[1140,670],[1290,670],[1330,660],[1350,680],[1310,700],[1340,720],[1290,720],[1320,770],[1300,760],[1360,720],[1410,720],[1470,690],[1240,720],[1190,720],[1120,750],[1070,720],[1020,730],[970,750],[1000,770],[1135,800],[1250,760],[1280,760],[1345,760],[1370,760],[1420,760],[1300,810],[1330,820],[1300,840],[1280,880],[1250,850],[1190,860],[1470,745],[1510,600],[1480,620],[1440,620],[1350,620],[1160,610],[1110,610],[1070,620],[950,630],[900,600],[1520,460],[1490,500],[1470,530],[1440,570]];
const p5Olive=[[1097,220],[1010,250],[1050,240],[1130,260],[1180,250],[1293,241],[985,265],[1030,280],[1080,270],[1150,290],[1210,290],[1250,285],[1325,287],[1305,300],[980,300],[1040,310],[1090,300],[1140,310],[1240,320],[1285,325],[1340,315],[1430,320],[1398,325],[915,320],[950,340],[1000,340],[1050,340],[1100,340],[1150,340],[1200,350],[1250,350],[1300,360],[1350,350],[1390,350],[1445,350],[900,370],[960,370],[1010,370],[1060,370],[1130,370],[1180,380],[1230,380],[1280,390],[1340,380],[1400,390],[1440,385],[875,395],[930,400],[980,400],[1030,400],[1090,400],[1150,400],[1200,410],[1250,420],[1300,410],[1360,410],[1420,420],[1513,395],[920,440],[970,430],[1020,440],[1070,430],[1120,440],[1170,440],[1230,450],[1290,440],[1350,440],[1400,440],[1470,420],[1510,425],[920,470],[985,470],[1040,480],[1090,470],[1140,470],[1190,480],[1260,480],[1310,470],[1370,480],[1430,480],[850,525],[1000,510],[1080,510],[1130,510],[1190,520],[1250,520],[1300,520],[1380,520],[1495,540],[1450,540],[885,540],[935,545],[1015,545],[1080,570],[1140,550],[1200,550],[1260,560],[1290,560],[1390,570],[1470,600],[1220,590],[1370,600],[1025,630],[1270,625],[1335,625],[1240,650],[1440,635],[1200,668],[1235,685],[1365,660],[1135,730],[1155,715],[1000,270],[1060,260],[1110,240],[1160,270],[1230,300],[1015,300],[1060,300],[1115,300],[1170,320],[1270,320],[1020,320],[1070,320],[1120,320],[1180,320],[1310,320],[1365,330],[930,350],[975,350],[1025,350],[1075,350],[1125,350],[1175,350],[1225,360],[1275,360],[1325,380],[1370,380],[1420,370],[935,375],[985,385],[1035,380],[1085,380],[1155,370],[1205,385],[1255,390],[1310,390],[1370,400],[1420,395],[950,420],[1000,420],[1050,420],[1110,420],[1170,420],[1225,420],[1275,420],[1330,420],[1390,420],[1450,410],[945,455],[995,450],[1045,455],[1095,450],[1145,455],[1195,455],[1260,455],[1320,460],[1380,460],[1450,450],[1480,450],[950,495],[1010,490],[1060,495],[1110,490],[1165,490],[1220,490],[1280,500],[1340,500],[1400,500],[1460,500],[1040,520],[1100,530],[1160,530],[1220,530],[1280,540],[1340,540],[1420,530],[1100,560],[1170,570],[1230,570],[1320,570],[1420,570],[1450,590]];
const p5Cyan=[[1005,860],[1080,870],[1040,890],[1005,900],[1060,920],[1090,930],[1020,930],[1050,950],[1090,960],[850,938],[877,948],[930,935],[950,950],[985,948],[1090,985],[1000,985],[780,870],[768,920],[790,910],[740,940],[765,955],[718,978],[760,985],[820,985],[850,990],[880,1000],[910,1000],[950,1000],[1060,1010],[1120,1015],[1155,1020],[770,1020],[800,1030],[890,1020],[930,1030],[970,1020],[1015,1040],[1075,1030],[1260,1040],[1378,1045],[760,1060],[820,1050],[850,1040],[980,1060],[1040,1060],[1100,1060],[1165,1070],[1200,1060],[1250,1070],[800,1090],[850,1080],[900,1080],[950,1090],[1000,1080],[1070,1080],[1130,1100],[1180,1090],[1240,1090],[1310,1100],[1330,1100],[1355,1095],[1398,1107],[750,1090],[693,1103],[760,1110],[820,1120],[870,1110],[920,1120],[980,1120],[1040,1110],[1090,1120],[1150,1130],[1210,1120],[1270,1120],[780,1130],[850,1150],[900,1140],[960,1150],[1020,1150],[1060,1150],[1120,1150],[1170,1160],[1230,1150],[1290,1150],[1352,1155],[725,1158],[815,1165],[815,1190],[880,1195],[945,1175],[1000,1180],[1040,1190],[1100,1180],[1160,1190],[1215,1185],[1270,1180],[1310,1168],[1250,1195],[1010,1205],[1040,1210],[1070,1205],[1100,1210],[1165,1210],[1195,1205],[1255,1215],[1020,1230],[1050,1240],[1080,1230],[1120,1235],[1010,1255],[1050,1260],[1100,1250],[1165,1260],[1193,1248],[1207,1276],[1295,1265],[1250,1275],[1305,1275],[1350,1296],[985,1284],[1040,1285],[1075,1270],[1075,1295],[1130,1285],[1150,1280],[1190,1300],[1250,1295],[1285,1280],[818,1302],[885,1310],[910,1305],[935,1310],[955,1300],[970,1315],[1000,1310],[1030,1305],[1060,1310],[1090,1310],[1130,1310],[1165,1305],[1215,1315],[1245,1305],[1285,1310],[1315,1315],[985,1330],[1010,1340],[1040,1330],[1080,1340],[1110,1330],[1140,1330],[1190,1340],[1230,1335],[1270,1330],[1300,1340],[1330,1340],[1370,1335],[1385,1340],[1398,1352],[752,1357],[767,1350],[795,1350],[815,1350],[835,1345],[860,1350],[890,1350],[960,1350],[985,1360],[1015,1355],[1050,1355],[1080,1355],[1115,1355],[1150,1350],[1185,1360],[1210,1360],[1240,1350],[1300,1360],[1345,1350],[797,1367],[848,1362],[877,1375],[895,1372],[922,1368],[988,1372],[1020,1372],[1068,1380],[1128,1373],[1382,1382],[797,1396],[1269,1399],[693,1240],[710,1252],[705,1280],[707,1300],[673,1297],[664,1363],[635,1430],[615,1530],[848,1519],[890,1537],[983,1523],[1106,1457],[1110,1470],[1193,1465],[1407,1569],[1294,1613],[1082,1723],[960,1896],[803,1225],[853,1235],[881,1208],[945,1213],[753,1205],[892,1978],[835,1996],[1001,1995],[945,2000],[955,2005],[1202,1990],[1167,1990],[1230,1988],[1250,1995],[1270,1990],[1290,1990],[1303,1998],[1240,2008],[1285,2002],[1335,1988],[1345,1988],[1415,1995],[1427,1995],[1454,1999],[1478,2022],[1456,2030],[1200,2017],[1165,2015],[1170,2035],[1130,2035],[1125,2015],[1105,2030],[1080,2030],[1050,2010],[1070,2010],[1020,2010],[1050,2030],[1020,2050],[1045,2055],[1070,2052],[990,2025],[965,2030],[940,2040],[925,2010],[897,2010],[855,2022],[895,2035],[875,2040],[835,2045],[810,2040],[790,2035],[765,2022],[735,2030],[710,2035],[680,2030],[650,2025],[650,2045],[665,2050],[690,2055],[660,2065],[692,2060],[725,2052],[760,2060],[795,2060],[755,2075],[800,2085],[780,2095],[795,2105],[752,2103],[848,2075],[870,2065],[880,2080],[915,2070],[925,2085],[922,2098],[950,2060],[980,2050],[1005,2060],[981,2083],[1008,2083],[1421,2071],[827,2213],[698,2248],[751,2257],[750,2320],[740,2340],[767,2338],[762,2362],[700,2375],[1030,870],[1060,880],[1020,905],[1040,920],[1075,950],[1060,970],[890,1000],[920,985],[980,1000],[1000,1010],[790,1000],[780,1050],[830,1020],[860,1020],[900,1050],[930,1060],[880,1060],[950,1040],[1000,1040],[1010,1100],[1060,1040],[1080,1050],[1100,1090],[1130,1060],[1170,1110],[1190,1110],[1230,1120],[1250,1100],[1260,1060],[1220,1060],[820,1090],[790,1110],[870,1140],[920,1090],[960,1090],[1050,1080],[1040,1140],[1090,1150],[1140,1160],[1200,1150],[1250,1140],[1260,1170],[960,1180],[1060,1180],[1130,1180],[1190,1170],[1230,1180],[900,1170],[850,1175],[1030,1220],[1060,1235],[1090,1245],[1070,1260],[1040,1265],[1100,1270],[1130,1300],[1160,1320],[1100,1320],[1070,1320],[1040,1320],[1010,1320],[1200,1320],[1240,1320],[1270,1310],[1300,1320],[990,1345],[1030,1345],[1065,1345],[1095,1345],[1125,1345],[1165,1345],[1205,1345],[1255,1345],[1285,1345],[1315,1350],[1360,1350],[1005,1372],[1045,1372],[1090,1372],[1110,1372],[1155,1368],[1185,1375],[1210,1372],[1255,1365],[1300,1372],[1330,1360],[900,1335],[940,1330],[815,1365],[830,1360],[780,1355],[870,1350],[910,1350],[935,1350],[905,1365],[1250,1260],[670,2025],[695,2030],[720,2035],[750,2030],[775,2030],[800,2045],[820,2040],[850,2040],[885,2050],[905,2050],[930,2050],[960,2035],[985,2045],[1015,2030],[1035,2030],[1060,2030],[1090,2020],[1115,2020],[1150,2015],[1180,2010],[660,2040],[680,2045],[650,2035],[770,2075],[785,2075],[900,2060]];

const colors={purple:'#9467bd',blue:'#1f77b4',green:'#2ca02c',pink:'#e377c2',olive:'#bcbd22',cyan:'#17becf'};
const panels=[
 {left:5,x:[10,1514],y:[10,1554]},
 {left:798,x:[1526,3030],y:[10,1554]},
 {left:1591,x:[21,1526],y:[15,2379]},
 {left:2384,x:[8,1513],y:[15,2379]},
 {left:3177,x:[52,1556],y:[15,2379]}
];
const table=[
 [0,'purple',p1Purple],[0,'blue',p1Blue],[0,'green',p1Green],[0,'pink',p1Pink],[0,'olive',p1Olive],[0,'cyan',p1Cyan],
 [1,'olive',p2Olive],[1,'green',p2Green],[1,'pink',p2Pink],[1,'cyan',p2Cyan],
 [2,'purple',p3Purple],[2,'blue',p3Blue],[2,'green',p3Green],[2,'pink',p3Pink],[2,'olive',p3Olive],[2,'cyan',p3Cyan],
 [3,'purple',p4Purple],[3,'blue',p4Blue],[3,'green',p4Green],[3,'pink',p4Pink],[3,'olive',p4Olive],[3,'cyan',p4Cyan],
 [4,'purple',p5Purple],[4,'blue',p5Blue],[4,'green',p5Green],[4,'pink',p5Pink],[4,'olive',p5Olive],[4,'cyan',p5Cyan]
];
const chart=echarts.init(document.getElementById('c'),null,{renderer:'canvas'});
chart.setOption({
 animation:false,backgroundColor:'#fff',
 grid:panels.map(p=>({left:p.left,top:5,width:787,height:788})),
 xAxis:panels.map((p,i)=>({gridIndex:i,type:'value',min:p.x[0],max:p.x[1],show:false})),
 yAxis:panels.map((p,i)=>({gridIndex:i,type:'value',min:p.y[0],max:p.y[1],inverse:true,show:false})),
 series:table.map(([i,c,d])=>({type:'scatter',name:c,xAxisIndex:i,yAxisIndex:i,data:d,symbol:'circle',symbolSize:12.5,clip:true,progressive:0,itemStyle:{color:colors[c],opacity:1},emphasis:{disabled:true},silent:true}))
});
</script></body></html>
